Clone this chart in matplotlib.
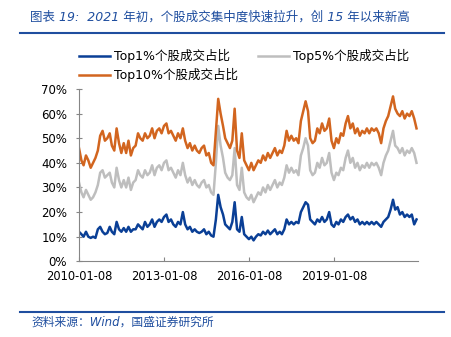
import pandas as pd
import matplotlib
matplotlib.use('Agg')
import matplotlib.pyplot as plt
import matplotlib.dates as mdates
from matplotlib.lines import Line2D
from matplotlib.ticker import PercentFormatter

plt.rcParams['font.family'] = ['DejaVu Sans', 'Noto Sans CJK SC']

# monthly concentration of turnover, %, Jan 2010 - Dec 2021
top1 = [12, 11, 10, 12, 10, 9.5, 10, 9.5, 13, 14, 12, 11,
        11.5, 14, 12, 11, 16, 13, 12, 13.5, 12, 14, 12, 13,
        13, 15, 14, 13, 16, 14, 15, 17, 14, 16, 17, 16,
        18, 19, 16, 17, 15, 14, 16, 15, 20, 15, 13, 14,
        12, 13, 12, 11.5, 12, 13, 11, 12, 10.5, 10, 17, 27,
        22, 19, 15, 14, 13, 16, 24, 13, 12, 18, 11, 10,
        9, 10, 8.5, 10, 11, 10.5, 12, 11, 12.5, 11, 12, 13,
        11, 12, 11, 13, 17, 15, 16, 15, 16, 15.5, 20, 22,
        24, 23, 17, 16, 15, 17, 16, 18, 16, 17, 20, 15,
        14, 16, 15, 17, 16, 18, 19, 17, 18, 16, 17, 15,
        16, 15, 16, 15, 16, 15, 16, 15, 14, 16, 17, 18,
        21, 25, 21, 22, 19, 20, 18, 19, 18, 19, 15, 17]
top5 = [32, 28, 26, 29, 27, 25, 26, 28, 31, 36, 37, 34,
        35, 36, 32, 30, 38, 33, 30, 33, 30, 34, 29, 32,
        33, 37, 35, 34, 37, 35, 36, 39, 35, 38, 39, 37,
        40, 41, 37, 38, 36, 34, 37, 35, 40, 35, 32, 34,
        31, 33, 31, 30, 32, 33, 30, 31, 28, 27, 40, 55,
        47, 42, 36, 34, 33, 35, 46, 31, 29, 38, 28, 26,
        25, 27, 24, 26, 28, 27, 30, 28, 31, 29, 31, 33,
        30, 32, 31, 34, 39, 36, 38, 36, 37, 35, 43, 46,
        50, 47, 37, 35, 36, 40, 38, 42, 39, 40, 44, 36,
        33, 36, 35, 38, 37, 42, 45, 40, 42, 38, 40, 37,
        39, 38, 40, 38, 40, 39, 40, 38, 35, 40, 43, 45,
        49, 53, 47, 46, 44, 46, 43, 45, 44, 46, 44, 40]
top10 = [46, 41, 39, 43, 41, 38, 40, 42, 45, 51, 53, 49,
         50, 52, 47, 45, 54, 48, 44, 48, 44, 49, 43, 46,
         47, 52, 50, 49, 52, 50, 51, 54, 50, 53, 54, 52,
         55, 56, 52, 53, 51, 49, 52, 50, 54, 49, 46, 48,
         45, 47, 45, 44, 46, 47, 43, 44, 40, 39, 53, 66,
         60, 55, 50, 48, 46, 49, 62, 45, 42, 52, 41, 39,
         37, 40, 37, 39, 41, 40, 43, 41, 44, 42, 44, 46,
         43, 45, 44, 47, 53, 49, 51, 49, 50, 48, 57, 61,
         65, 61, 50, 48, 49, 54, 52, 56, 53, 54, 58, 49,
         46, 50, 48, 52, 51, 56, 59, 54, 56, 52, 54, 51,
         53, 52, 54, 52, 54, 53, 54, 52, 48, 54, 57, 59,
         63, 67, 62, 60, 59, 61, 58, 60, 59, 61, 58, 54]

labels = ['Top1%个股成交占比', 'Top5%个股成交占比', 'Top10%个股成交占比']
tick_dates = ['2010-01-08', '2013-01-08', '2016-01-08', '2019-01-08']

dates = pd.date_range('2010-01-01', periods=len(top1), freq='MS') + pd.Timedelta(days=7)

blue = '#0A3F96'
grey = '#BEBEBE'
orange = '#D2651F'
navy = '#1F4E9F'

fig = plt.figure(figsize=(4.51, 3.37), dpi=100)
ax = fig.add_axes([79/451, 1-261.3/337, (418.3-79)/451, (261.3-89)/337])

l1, = ax.plot(dates, top1, color=blue, lw=1.8, label=labels[0])
l5, = ax.plot(dates, top5, color=grey, lw=1.8, label=labels[1])
l10, = ax.plot(dates, top10, color=orange, lw=1.8, label=labels[2])

ax.set_ylim(0, 70)
ax.set_yticks(range(0, 71, 10))
ax.yaxis.set_major_formatter(PercentFormatter(decimals=0))
ax.set_xlim(pd.Timestamp('2010-01-08'), pd.Timestamp('2021-12-31'))
ax.set_xticks(pd.to_datetime(tick_dates))
ax.xaxis.set_major_formatter(mdates.DateFormatter('%Y-%m-%d'))

for s in ['top', 'right']:
    ax.spines[s].set_visible(False)
for s in ['left', 'bottom']:
    ax.spines[s].set_color('#868686')
    ax.spines[s].set_linewidth(0.8)
ax.tick_params(axis='y', direction='inout', length=5, width=0.8, color='#868686',
               labelsize=8.5, pad=6)
ax.tick_params(axis='x', direction='in', length=3, width=0.8, color='#868686',
               labelsize=8.3, pad=6)

fig.legend([l1, l10, l5], [labels[0], labels[2], labels[1]], ncol=2,
           loc='upper left', bbox_to_anchor=(79/451, 1-49/337), frameon=False,
           fontsize=9, handlelength=2.5, handletextpad=0.3, columnspacing=1.6,
           labelspacing=0.4, borderpad=0, borderaxespad=0)

fig.text(30/451, 1-17/337, '图表 19:  2021 年初，个股成交集中度快速拉升，创 15 年以来新高',
         color=navy, fontsize=9, style='italic', va='center', ha='left')
fig.text(31/451, 1-322/337, '资料来源：Wind，国盛证券研究所',
         color=navy, fontsize=8.5, style='italic', va='center', ha='left')

fig.add_artist(Line2D([20/451, 444/451], [1-33.3/337]*2, color=navy, lw=1.5))
fig.add_artist(Line2D([20/451, 444/451], [1-311.5/337]*2, color=navy, lw=1.5))

fig.savefig('out.png', dpi=100)
